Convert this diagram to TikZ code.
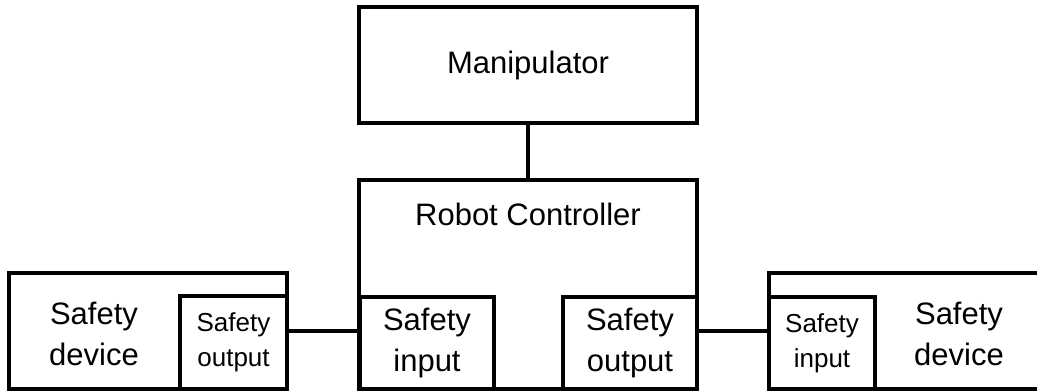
\documentclass[tikz,border=0pt]{standalone}
\usepackage{fontspec}
\setmainfont{Liberation Sans}
\begin{document}
\begin{tikzpicture}[x=0.5pt,y=-0.5pt,
		box/.style={draw,line width=2pt,inner sep=0pt,align=center,font=\fontsize{15.5}{20.5}\selectfont},
		smallbox/.style={box,font=\fontsize{13}{17.5}\selectfont},
		txt/.style={inner sep=0pt,align=center,font=\fontsize{15.5}{20.5}\selectfont},
		wire/.style={line width=2pt}]
		\useasboundingbox (0,0) rectangle (1037,391);
		\clip (0,0) rectangle (1037,391);
		\node[name=man,box,minimum width=169pt,minimum height=58pt]at(528,65){Manipulator};
		\node[name=ctrl,box,minimum width=169pt,minimum height=104.5pt]at(528,284.5){};
		\node[name=ctrltxt,txt]at(528,214){Robot Controller};
		\node[name=cin,box,minimum width=67pt,minimum height=46pt]at(427,343){Safety\\input};
		\node[name=cout,box,minimum width=67pt,minimum height=46pt]at(630,343){Safety\\output};
		\node[name=ldev,box,minimum width=139pt,minimum height=58pt]at(148,331){};
		\node[name=ldevtxt,txt]at(94,334){Safety\\device};
		\node[name=lout,smallbox,minimum width=53.5pt,minimum height=46.5pt]at(233.5,342.5){Safety\\output};
		\node[name=rdev,box,minimum width=150pt,minimum height=58pt]at(919,331){};
		\node[name=rdevtxt,txt]at(959,334){Safety\\device};
		\node[name=rin,smallbox,minimum width=53pt,minimum height=46pt]at(822,343){Safety\\input};
		\draw[wire](man) -- (ctrl);
		\draw[wire](ldev.east) -- (ldev.east -| cin.west);
		\draw[wire](rdev.west) -- (rdev.west -| cout.east);
	\end{tikzpicture}
\end{document}
